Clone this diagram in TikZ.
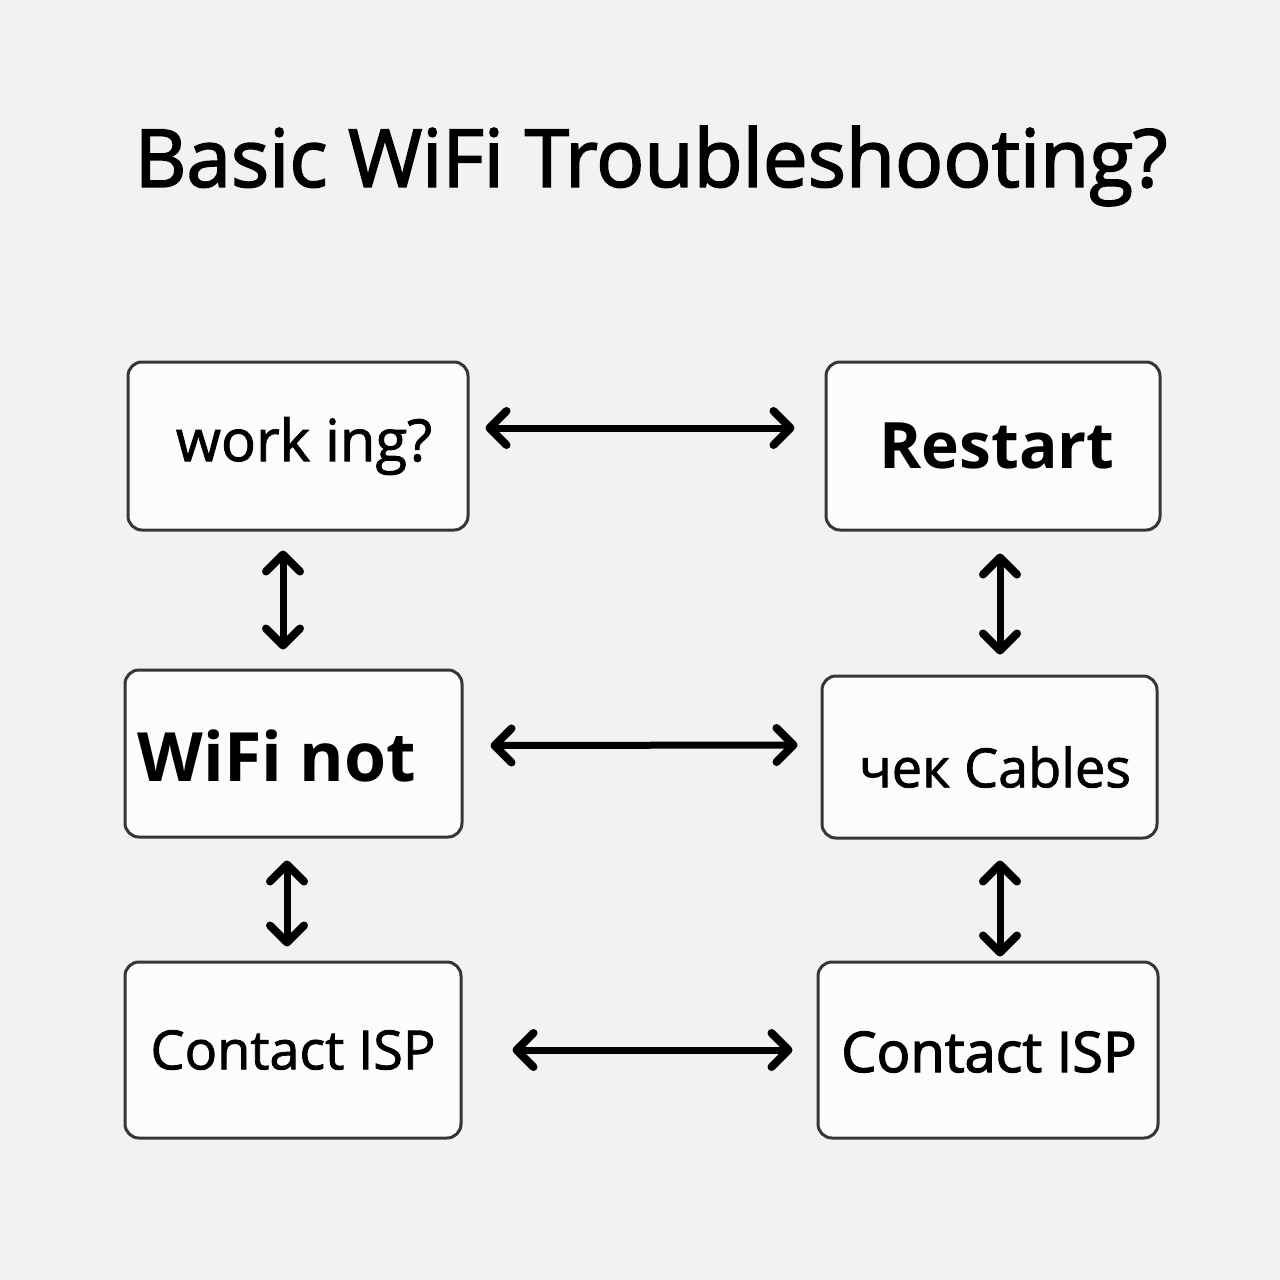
\documentclass[tikz,border=0pt]{standalone}
\usepackage{fontspec}
\setmainfont{Open Sans}
\usetikzlibrary{arrows.meta,calc}
\definecolor{bg}{HTML}{F2F2F2}
\definecolor{boxfill}{HTML}{FCFCFC}
\definecolor{boxline}{HTML}{363636}
\newcommand{\medw}{\addfontfeature{FakeBold=1.5}}
\tikzset{
  box/.style={draw=boxline, line width=3pt, fill=boxfill, rounded corners=14pt, inner sep=0pt},
  lbl/.style={inner sep=0pt, text=black},
  tipb/.tip={Straight Barb[length=17pt,width=34pt,line width=8pt,round]},
  arr/.style={line width=7pt, line cap=round, black, tipb-tipb}
}
\begin{document}
\begin{tikzpicture}[x=1pt,y=-1pt]
\fill[bg] (0,0) rectangle (1280,1280);
\useasboundingbox (0,0) rectangle (1280,1280);

\node[lbl, font=\fontsize{80}{86}\selectfont\addfontfeature{FakeBold=2.2}] (title) at (651,166) {Basic WiFi Troubleshooting?};

\node[box, minimum width=340pt, minimum height=168pt] (b1) at (298,446) {};
\node[box, minimum width=334pt, minimum height=168pt] (b2) at (993,446) {};
\node[box, minimum width=337pt, minimum height=167pt] (b3) at (293.5,753.5) {};
\node[box, minimum width=335pt, minimum height=162pt] (b4) at (989.5,757) {};
\node[box, minimum width=336pt, minimum height=176pt] (b5) at (293,1050) {};
\node[box, minimum width=340pt, minimum height=176pt] (b6) at (988,1050) {};

\node[lbl, font=\fontsize{58}{64}\selectfont\medw] (t1) at (304,446) {work ing?};
\node[lbl, font=\fontsize{64}{70}\bfseries] (t2) at (997,446) {Restart};
\node[lbl, font=\fontsize{68}{74}\bfseries] (t3) at (277,756) {WiFi not};
\node[lbl, font=\fontsize{54}{60}\selectfont\medw] (t4) at (995,767) {чек Cables};
\node[lbl, font=\fontsize{54}{60}\selectfont\medw] (t5) at (293,1050) {Contact ISP};
\node[lbl, font=\fontsize{56}{62}\selectfont\addfontfeature{FakeBold=2.2}] (t6) at (989,1052) {Contact ISP};

\draw[arr] ($(b1.east)+(16,-18)$) -- ($(b2.west)+(-30,-18)$);
\draw[arr] ($(b3.east)+(27,-8)$) -- ($(b4.west)+(-23,-12)$);
\draw[arr] ($(b5.east)+(50,0)$) -- ($(b6.west)+(-24,0)$);
\draw[arr] ($(b1.south)+(-15,19)$) -- ($(b3.north)+(-10.5,-19)$);
\draw[arr] ($(b2.south)+(7,22)$) -- ($(b4.north)+(10.5,-20)$);
\draw[arr] ($(b3.south)+(-6.5,22)$) -- ($(b5.north)+(-6,-14)$);
\draw[arr] ($(b4.south)+(10.5,21)$) -- ($(b6.north)+(12,-4)$);
\end{tikzpicture}
\end{document}
